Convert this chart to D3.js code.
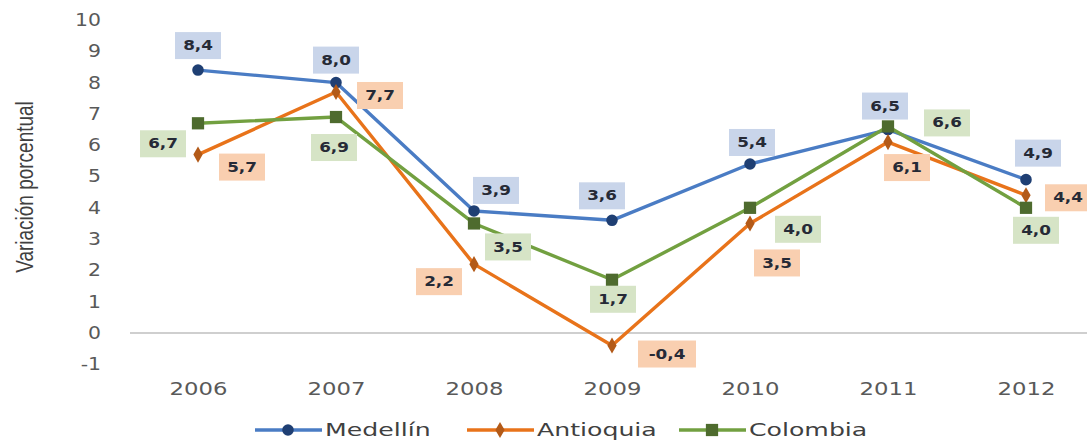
<!DOCTYPE html>
<html>
<head>
<meta charset="utf-8">
<script src="https://d3js.org/d3.v7.min.js"></script>
<style>
  body { margin: 0; background: #fff; }
  svg { display: block; }
</style>
</head>
<body>
<script>
  const years = ['2006', '2007', '2008', '2009', '2010', '2011', '2012']
  const medellin = [8.4, 8.0, 3.9, 3.6, 5.4, 6.5, 4.9]
  const antioquia = [5.7, 7.7, 2.2, -0.4, 3.5, 6.1, 4.4]
  const colombia = [6.7, 6.9, 3.5, 1.7, 4.0, 6.6, 4.0]
  const yTicks = [-1, 0, 1, 2, 3, 4, 5, 6, 7, 8, 9, 10]

  const width = 1087
  const height = 440

  const series = [
    { name: 'Medellín', values: medellin, line: '#4a7cc4', mark: '#1f3f73', box: '#c9d5ea', shape: 'circle',
      off: [[0, -25], [0, -23], [22, -21], [-10, -25], [2, -22], [-3, -24], [12, -27]] },
    { name: 'Antioquia', values: antioquia, line: '#e8731a', mark: '#b35a18', box: '#f9cfb0', shape: 'diamond',
      off: [[44, 12], [44, 3], [-35, 17], [55, 8], [27, 39], [19, 25], [42, 2]] },
    { name: 'Colombia', values: colombia, line: '#72a040', mark: '#4e6b2e', box: '#d6e4c6', shape: 'square',
      off: [[-35, 20], [-2, 30], [34, 23], [1, 19], [48, 21], [59, -4], [10, 22]] }
  ]

  const svg = d3.select('body').append('svg')
    .attr('width', width).attr('height', height)

  const x = d3.scalePoint().domain(years).range([198, 1026])
  const y = d3.scaleLinear().domain([-1, 10]).range([364.3, 20])

  // y axis labels only (the source picture is stretched sideways, hence scale)
  const yAxis = svg.append('g')
    .attr('transform', 'translate(101,0)')
    .call(d3.axisLeft(y).tickValues(yTicks).tickFormat(d => String(d)).tickSize(0).tickPadding(0))
  yAxis.select('.domain').remove()
  yAxis.selectAll('text')
    .attr('font-family', 'DejaVu Sans, Verdana, sans-serif')
    .attr('font-size', 17)
    .attr('fill', '#595959')
    .attr('transform', 'scale(1.2,1)')

  // zero line
  svg.append('line')
    .attr('x1', 130).attr('x2', width)
    .attr('y1', y(0)).attr('y2', y(0))
    .attr('stroke', '#bfbfbf').attr('stroke-width', 1.5)

  // x axis labels
  const xAxis = svg.append('g')
    .attr('transform', 'translate(0,383)')
    .call(d3.axisBottom(x).tickSize(0).tickPadding(0))
  xAxis.select('.domain').remove()
  xAxis.selectAll('text')
    .attr('font-family', 'DejaVu Sans, Verdana, sans-serif')
    .attr('font-size', 17.5)
    .attr('fill', '#595959')
    .attr('transform', 'scale(1.3,1)')

  svg.append('text')
    .attr('transform', 'translate(33,187) rotate(-90) scale(1,1.3)')
    .attr('text-anchor', 'middle')
    .attr('font-family', 'Liberation Sans Narrow, Arial Narrow, sans-serif')
    .attr('font-size', 19)
    .attr('fill', '#404040')
    .text('Variación porcentual')

  const symbolFor = s => s === 'circle' ? d3.symbol(d3.symbolCircle, 105)
    : s === 'diamond' ? d3.symbol(d3.symbolDiamond, 75)
    : d3.symbol(d3.symbolSquare, 150)

  const line = d3.line().x((d, i) => x(years[i])).y(d => y(d))

  series.forEach(s => {
    svg.append('path')
      .datum(s.values)
      .attr('d', line)
      .attr('fill', 'none')
      .attr('stroke', s.line)
      .attr('stroke-width', 3.4)
      .attr('stroke-linejoin', 'round')

    svg.selectAll(null)
      .data(s.values)
      .enter()
      .append('path')
        .attr('d', symbolFor(s.shape))
        .attr('transform', (d, i) => `translate(${x(years[i])},${y(d)})`)
        .attr('fill', s.mark)
  })

  const fmt = v => v.toFixed(1).replace('.', ',')

  series.forEach(s => {
    const g = svg.selectAll(null)
      .data(s.values)
      .enter()
      .append('g')
        .attr('transform', (d, i) => `translate(${x(years[i]) + s.off[i][0]},${y(d) + s.off[i][1]})`)
    g.append('rect')
      .attr('x', d => d < 0 ? -29 : -23)
      .attr('y', -13)
      .attr('width', d => d < 0 ? 58 : 46)
      .attr('height', 27)
      .attr('fill', s.box)
    g.append('text')
      .attr('text-anchor', 'middle')
      .attr('dy', '0.36em')
      .attr('font-family', 'DejaVu Sans, Verdana, sans-serif')
      .attr('font-weight', 'bold')
      .attr('font-size', 14)
      .attr('fill', '#262a36')
      .attr('transform', 'scale(1.2,1)')
      .text(fmt)
  })

  // legend
  const legendX = [255, 467, 679]
  const legend = svg.selectAll('.legend')
    .data(series)
    .enter()
    .append('g')
      .attr('class', 'legend')
      .attr('transform', (d, i) => `translate(${legendX[i]},430)`)
  legend.append('line')
    .attr('x1', 0).attr('x2', 67)
    .attr('stroke', d => d.line).attr('stroke-width', 3.4)
  legend.append('path')
    .attr('d', d => symbolFor(d.shape)())
    .attr('transform', 'translate(33,0)')
    .attr('fill', d => d.mark)
  legend.append('text')
    .attr('x', 70 / 1.4)
    .attr('dy', '0.36em')
    .attr('font-family', 'DejaVu Sans, Verdana, sans-serif')
    .attr('font-size', 18)
    .attr('fill', '#404040')
    .attr('transform', 'scale(1.4,1)')
    .text(d => d.name)
</script>
</body>
</html>
